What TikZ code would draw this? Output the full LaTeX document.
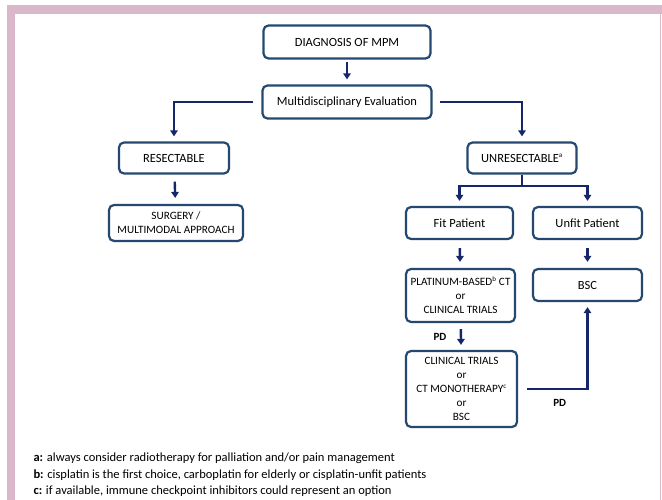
\documentclass[tikz,border=0pt]{standalone}
\usepackage{fontspec}
\setmainfont{Carlito}
\usetikzlibrary{arrows.meta}
\definecolor{boxblue}{RGB}{36,72,112}
\definecolor{arrblue}{RGB}{22,38,104}
\definecolor{framepink}{RGB}{218,184,201}

\begin{document}
\begin{tikzpicture}[x=1pt,y=-1pt,>={Triangle[length=6pt,width=7.5pt]},
  box/.style={draw=boxblue,line width=2.2pt,rounded corners=5pt,align=center,
    inner sep=2pt,font=\fontsize{12.5}{15}\selectfont},
  smallbox/.style={box,font=\fontsize{11.2}{14}\selectfont},
  arr/.style={->,draw=arrblue,line width=2.4pt},
  pdlabel/.style={font=\bfseries\fontsize{11}{12}\selectfont,text=black}]
  \useasboundingbox (0,0) rectangle (662,500);
  % frame
  \fill[framepink] (7,5) rectangle (662,14);
  \fill[framepink] (7,5) rectangle (15,500);
  \draw[framepink,line width=1pt] (660.5,14) -- (660.5,500);

  % boxes
  \node[box,minimum width=167pt,minimum height=33pt] (diag) at (347,42) {DIAGNOSIS OF MPM};
  \node[box,minimum width=169pt,minimum height=33pt] (multi) at (347,102) {Multidisciplinary Evaluation};
  \node[box,minimum width=110pt,minimum height=31pt] (res) at (174,158) {RESECTABLE};
  \node[box,minimum width=109pt,minimum height=31pt] (unres) at (522,158) {UNRESECTABLE\textsuperscript{\scriptsize a}};
  \node[smallbox,minimum width=134pt,minimum height=36pt] (surg) at (176,223) {SURGERY /\\ MULTIMODAL APPROACH};
  \node[box,minimum width=107pt,minimum height=32pt] (fit) at (459.5,223) {Fit Patient};
  \node[box,minimum width=109pt,minimum height=32pt] (unfit) at (587.5,223) {Unfit Patient};
  \node[smallbox,minimum width=109pt,minimum height=53pt] (plat) at (460.5,295.5) {PLATINUM-BASED\textsuperscript{\scriptsize b} CT\\ or\\ CLINICAL TRIALS};
  \node[box,minimum width=109pt,minimum height=32pt] (bsc) at (587.5,285) {BSC};
  \node[smallbox,minimum width=111pt,minimum height=76pt] (clin) at (461.5,389) {CLINICAL TRIALS\\ or\\ CT MONOTHERAPY\textsuperscript{\scriptsize c}\\ or\\ BSC};

  % connectors
  \draw[arr,shorten <=2pt,shorten >=5pt] (diag) -- (multi);
  \draw[arr,shorten <=8pt,shorten >=5pt] (multi.west) -| (res.north);
  \draw[arr,shorten <=7pt,shorten >=5pt] (multi.east) -| (unres.north);
  \draw[arr,shorten <=7pt,shorten >=6pt] (res) -- (surg);
  \coordinate (fork) at (522,186);
  \draw[arrblue,line width=2.4pt] (unres.south) -- (fork);
  \draw[arr,shorten >=5pt] (fork) -| (fit.north);
  \draw[arr,shorten >=5pt] (fork) -| (unfit.north);
  \draw[arr,shorten <=8pt,shorten >=6pt] (fit) -- (plat);
  \draw[arr,shorten <=8pt,shorten >=6pt] (unfit) -- (bsc);
  \draw[arr,shorten <=6pt,shorten >=5pt] (plat) -- node[pdlabel,left=10pt] (pdone) {PD} (clin);
  \draw[arr,shorten <=9pt,shorten >=5pt] (clin.east) -| node[pdlabel,pos=0.3,below=6pt] (pdtwo) {PD} (bsc.south);

  % footnotes
  \node[anchor=west,font=\fontsize{12.5}{14}\selectfont] (notea) at (30,458) {\textbf{a:} always consider radiotherapy for palliation and/or pain management};
  \node[anchor=west,font=\fontsize{12.5}{14}\selectfont] (noteb) at (30,475) {\textbf{b:} cisplatin is the first choice, carboplatin for elderly or cisplatin-unfit patients};
  \node[anchor=west,font=\fontsize{12.5}{14}\selectfont] (notec) at (30,491) {\textbf{c:} if available, immune checkpoint inhibitors could represent an option};
\end{tikzpicture}
\end{document}
